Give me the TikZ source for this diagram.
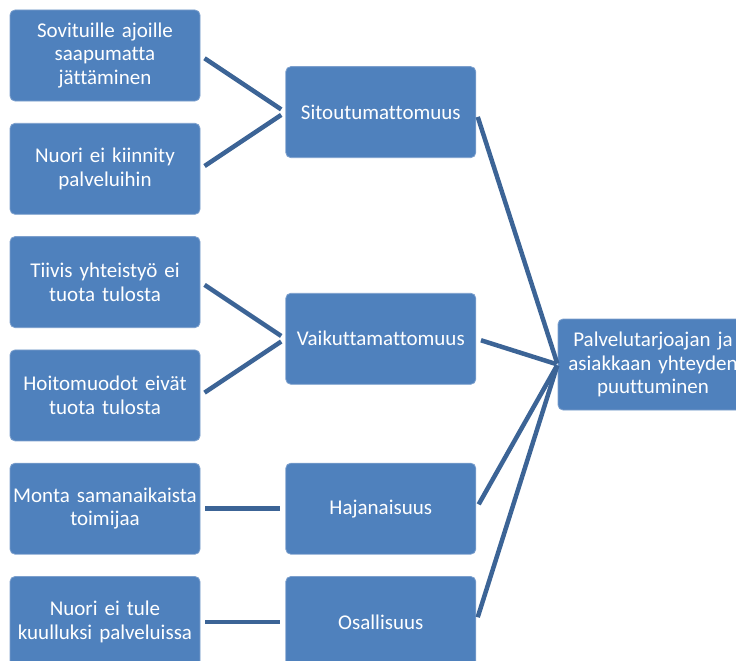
\documentclass[tikz,border=0pt]{standalone}
\usepackage{fontspec}
\setmainfont{Carlito}[Ligatures=NoCommon]
\usepackage{tikz}
\usetikzlibrary{positioning, calc}
\definecolor{boxblue}{RGB}{79,129,189}
\definecolor{boxedge}{RGB}{125,160,205}
\definecolor{linkblue}{RGB}{60,100,150}
\tikzset{
  block/.style={rectangle, draw=boxedge, fill=boxblue, text=white,
    minimum width=190pt, minimum height=91pt, text width=186pt, inner sep=2pt,
    align=center, font=\fontsize{21}{23.5}\selectfont,
    rounded corners=5pt, line width=0.8pt},
  link/.style={line width=4.5pt, color=linkblue, shorten <=5pt, shorten >=5pt},
  biglink/.style={line width=4.5pt, color=linkblue, shorten <=5pt, shorten >=1pt}
}
\begin{document}
\begin{tikzpicture}[x=1pt,y=1pt]
  \useasboundingbox (0,0) rectangle (736,-661);
  \clip (0,0) rectangle (736,-661);

  % Causes in the left column
  \node[block] (c1) at (105,-55.5) {Sovituille ajoille\\ saapumatta\\ jättäminen};
  \node[block, below=21.5pt of c1] (c2) {Nuori ei kiinnity\\ palveluihin};
  \node[block, below=21.5pt of c2] (c3) {Tiivis yhteistyö ei\\ tuota tulosta};
  \node[block, below=21.5pt of c3] (c4) {Hoitomuodot eivät\\ tuota tulosta};
  \node[block, below=21.5pt of c4] (c5) {Monta samanaikaista\\ toimijaa};
  \node[block, below=21.5pt of c5] (c6) {Nuori ei tule\\ kuulluksi palveluissa};

  % Themes in the middle column
  \node[block, right=85pt of $(c1.east)!0.5!(c2.east)$] (sito) {Sitoutumattomuus};
  \node[block, right=85pt of $(c3.east)!0.5!(c4.east)$] (vaik) {Vaikuttamattomuus};
  \node[block, right=85pt of c5] (haja) {Hajanaisuus};
  \node[block, right=85pt of c6] (osal) {Osallisuus};

  % Main category
  \node[block] (main) at (653,-364.5) {Palvelutarjoajan ja\\ asiakkaan yhteyden\\ puuttuminen};

  % Links
  \draw[link] (c1.east) -- (sito.west);
  \draw[link] (c2.east) -- (sito.west);
  \draw[link] (c3.east) -- (vaik.west);
  \draw[link] (c4.east) -- (vaik.west);
  \draw[link] (c5) -- (haja);
  \draw[link] (c6) -- (osal);
  \draw[biglink] (sito.east) -- (main.west);
  \draw[biglink] (vaik.east) -- (main.west);
  \draw[biglink] (haja.east) -- (main.west);
  \draw[biglink] (osal.east) -- (main.west);
\end{tikzpicture}
\end{document}
